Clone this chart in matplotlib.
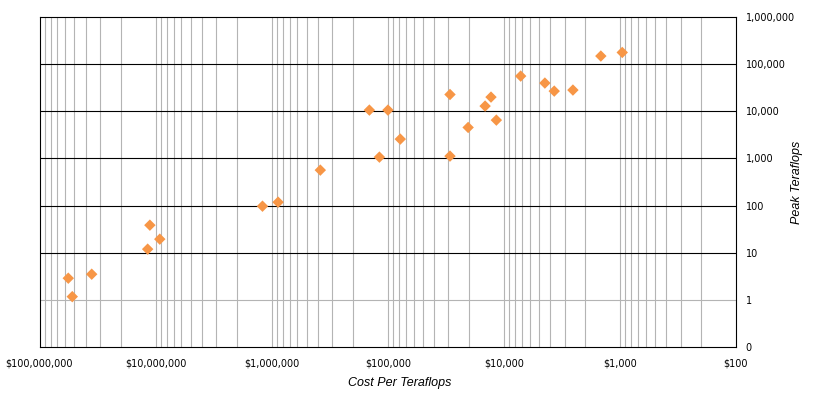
import matplotlib
matplotlib.use("Agg")
import matplotlib.pyplot as plt
import numpy as np

# cout par teraflops (USD) et puissance crete (teraflops)
cout = [5.65e7, 5.22e7, 3.55e7, 1.17e7, 1.12e7, 9.2e6, 1.2e6, 8.8e5, 3.81e5,
        1.44e5, 9.96e4, 1.18e5, 7.8e4, 2.91e4, 2.91e4, 2.03e4, 1.45e4, 1.29e4,
        1.16e4, 7160, 4430, 3680, 2540, 1460, 955]
teraflops = [2.88, 1.17, 3.5, 11.9, 38.4, 19.4, 97, 118, 565,
             10600, 10600, 1066, 2570, 22700, 1120, 4540, 12900, 20000,
             6500, 55800, 39700, 26800, 28200, 148500, 177000]

x_ticks = [1e8, 1e7, 1e6, 1e5, 1e4, 1e3, 1e2]
x_labels = ["$100,000,000", "$10,000,000", "$1,000,000", "$100,000",
            "$10,000", "$1,000", "$100"]
y_ticks = [0.1, 1, 10, 100, 1e3, 1e4, 1e5, 1e6]
y_labels = ["0", "1", "10", "100", "1,000", "10,000", "100,000", "1,000,000"]

fig = plt.figure(figsize=(8.17, 3.94), dpi=100)
ax = fig.add_axes([39.5 / 817, 47 / 394, 696.5 / 817, 330 / 394])

ax.set_xscale("log")
ax.set_yscale("log")
ax.set_xlim(1e8, 1e2)
ax.set_ylim(0.1, 1e6)

# grille verticale : toutes les graduations 1..9 de chaque decade
for dec in range(2, 8):
    for k in range(1, 10):
        v = k * 10.0 ** dec
        if 1e2 < v < 1e8:
            ax.axvline(v, color="#b4b4b4", lw=0.8, zorder=1)

# grille horizontale : noire sauf a 1
for v in y_ticks[1:-1]:
    ax.axhline(v, color="#b4b4b4" if v == 1 else "black", lw=0.8, zorder=1)

ax.scatter(cout, teraflops, marker="D", s=34, color="#F79646",
           edgecolors="none", zorder=3)

ax.set_xticks(x_ticks)
ax.set_xticklabels(x_labels)
ax.xaxis.set_minor_locator(matplotlib.ticker.NullLocator())
ax.set_yticks(y_ticks)
ax.set_yticklabels(y_labels)
ax.yaxis.set_minor_locator(matplotlib.ticker.NullLocator())
ax.yaxis.tick_right()
ax.tick_params(axis="x", length=0, pad=8, labelsize=7)
ax.tick_params(axis="y", length=0, pad=7, labelsize=7)
for lab in ax.get_yticklabels():
    lab.set_horizontalalignment("left")

for s in ax.spines.values():
    s.set_color("black")
    s.set_linewidth(0.8)

ax.set_xlabel("Cost Per Teraflops", fontstyle="italic",
              family="Liberation Sans", fontsize=9)
ax.xaxis.set_label_coords((400 - 39.5) / 696.5, -(383 - 347) / 330)
ax.xaxis.label.set_verticalalignment("center")

ax.yaxis.set_label_position("right")
ax.set_ylabel("Peak Teraflops", fontstyle="italic",
              family="Liberation Sans", fontsize=9, rotation=90)
ax.yaxis.label.set_verticalalignment("center")
ax.yaxis.set_label_coords((797 - 39.5) / 696.5, 0.5)

fig.savefig("out.png", dpi=100)
